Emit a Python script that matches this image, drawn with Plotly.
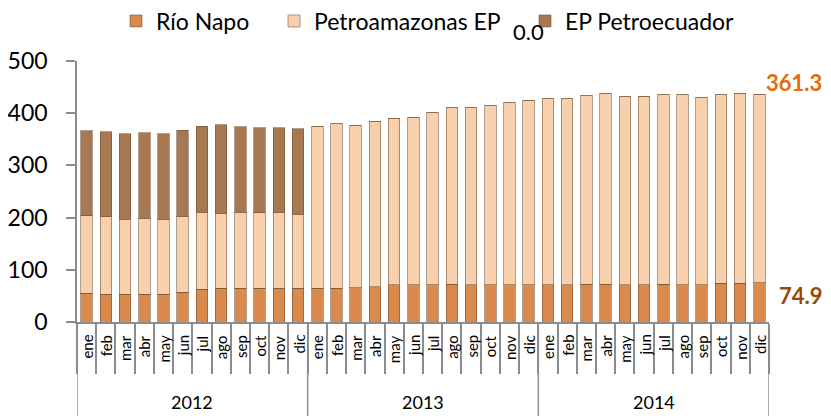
import plotly.graph_objects as go

years = ["2012", "2013", "2014"]
months = ["ene", "feb", "mar", "abr", "may", "jun", "jul", "ago", "sep", "oct", "nov", "dic"]

rio_napo = [55.2, 53.2, 52.7, 52.7, 52.7, 57.1, 62.8, 64.2, 64.8, 64.2, 64.8, 64.2,
            64.8, 64.8, 66.1, 67.4, 71.1, 71.1, 71.1, 72.4, 71.1, 71.1, 71.1, 71.1,
            71.1, 71.1, 72.4, 72.4, 71.1, 71.1, 72.4, 71.1, 71.1, 73.8, 73.8, 74.9]
petroamazonas = [148.3, 148.3, 144.4, 146.3, 144.4, 145.2, 147.2, 144.4, 145.2, 145.0, 145.8, 142.5,
                 310.2, 315.1, 310.8, 317.2, 319.3, 321.2, 329.5, 337.8, 339.1, 343.5, 349.2, 353.4,
                 356.3, 356.3, 361.4, 365.2, 360.8, 361.5, 363.3, 364.6, 358.8, 361.9, 363.8, 361.3]
petroecuador = [162.5, 163.2, 163.7, 163.8, 163.7, 165.1, 165.0, 168.9, 164.3, 162.6, 161.8, 163.2,
                0, 0, 0, 0, 0, 0, 0, 0, 0, 0, 0, 0,
                0, 0, 0, 0, 0, 0, 0, 0, 0, 0, 0, 0]

cats = [f"{y} {m}" for y in years for m in months]
month_of = [m for y in years for m in months]

FONT = "Lato"
AX = "#8C8C8C"
# the page body adds an 8px offset, so the figure is drawn 8px smaller
OFF = 8
W, H = 831 - OFF, 416 - OFF
ML, MR, MT, MB = 77 - OFF, 62, 61 - OFF, 94
PW, PH = W - ML - MR, H - MT - MB

fig = go.Figure()
fig.add_bar(x=cats, y=rio_napo, name="Río Napo", legend="legend",
            marker=dict(color="#D98A4C", line=dict(color="rgba(110,80,50,0.55)", width=1)))
fig.add_bar(x=cats, y=petroamazonas, name="Petroamazonas EP", legend="legend2",
            marker=dict(color="#F9D0AE", line=dict(color="rgba(110,80,50,0.55)", width=1)))
fig.add_bar(x=cats, y=petroecuador, name="EP Petroecuador", legend="legend3",
            marker=dict(color="#A77852", line=dict(color="rgba(110,80,50,0.55)", width=1)))

annotations = []
for c, m in zip(cats, month_of):
    annotations.append(dict(x=c, xref="x", y=0, yref="paper", text=m, textangle=-90,
                            showarrow=False, xanchor="center", yanchor="top", yshift=-11,
                            font=dict(family=FONT, size=15, color="#000")))
n = len(months)
for i, y in enumerate(years):
    annotations.append(dict(x=i * n + (n - 1) / 2, xref="x", y=0, yref="paper", text=y,
                            showarrow=False, xanchor="center", yanchor="middle", yshift=-80,
                            font=dict(family=FONT, size=18, color="#000")))
annotations.append(dict(x=cats[-1], xref="x", y=458, yref="y", text=f"{petroamazonas[-1]:.1f}",
                        showarrow=False, xanchor="left", yanchor="middle", xshift=5,
                        font=dict(family=FONT, size=22, color="#E46C0A", weight="bold")))
annotations.append(dict(x=cats[-1], xref="x", y=51, yref="y", text=f"{rio_napo[-1]:.1f}",
                        showarrow=False, xanchor="left", yanchor="middle", xshift=18,
                        font=dict(family=FONT, size=22, color="#984807", weight="bold")))
annotations.append(dict(x=(528 - OFF - ML) / PW, xref="paper", y=1 + (MT - (32 - OFF)) / PH,
                        yref="paper", text=f"{petroecuador[-1]:.1f}", showarrow=False,
                        xanchor="center", yanchor="middle",
                        font=dict(family=FONT, size=22, color="#000")))

shapes = []
bottom = -MB / PH
for k in range(len(years) + 1):
    xv = k * n - 0.5
    shapes.append(dict(type="line", xref="x", yref="paper", x0=xv, x1=xv, y0=0, y1=bottom,
                       line=dict(color=AX, width=1.5)))


def leg(xpx):
    return dict(orientation="h", xref="container", yref="container",
                x=xpx / W, xanchor="left", y=1 - (21 - OFF) / H, yanchor="middle",
                font=dict(family=FONT, size=23), itemwidth=30, bgcolor="rgba(0,0,0,0)")


fig.update_layout(
    width=W, height=H,
    margin=dict(l=ML, r=MR, t=MT, b=MB, autoexpand=False),
    barmode="stack", bargap=0.4,
    plot_bgcolor="white", paper_bgcolor="white",
    font=dict(family=FONT, color="#000"),
    showlegend=True,
    legend=leg(108), legend2=leg(266), legend3=leg(517),
    xaxis=dict(type="category", showticklabels=False, ticks="outside", tickson="boundaries",
               ticklen=50, tickcolor=AX, tickwidth=1.5, showline=True, linecolor=AX, linewidth=1.5,
               showgrid=False, zeroline=False, range=[-0.5, len(cats) - 0.5], automargin=False),
    yaxis=dict(range=[0, 500], dtick=100, ticks="outside", ticklen=9, tickcolor=AX, tickwidth=1.5,
               ticklabelstandoff=14,
               showline=True, linecolor=AX, linewidth=1.5, showgrid=False, zeroline=False,
               tickfont=dict(family=FONT, size=23, color="#000"), automargin=False),
    annotations=annotations,
    shapes=shapes,
)

fig.write_html("out.html")
